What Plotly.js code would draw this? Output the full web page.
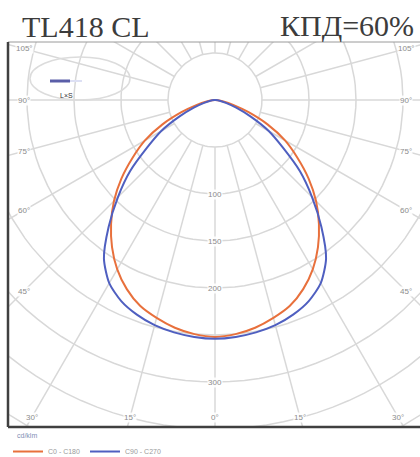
<!DOCTYPE html>
<html><head><meta charset="utf-8">
<script src="https://cdn.plot.ly/plotly-3.0.1.min.js"></script>
<style>html,body{margin:0;padding:0;background:#fff}</style>
</head><body><div id="chart" style="width:420px;height:457px"></div>
<script>
// ---- data ----
const gammaDeg = [0,5,10,15,20,25,30,35,40,45,50,55,60,65,70,75,80,85,90];
const intensityC0C180 = [252,250,246,240,233,222,208,191,172,152,130,107,86,62,38,20,9,3,0];
const intensityC90C270 = [254,253,251,248,243,236,225,206,176,146,118,88,66,42,24,12,5,1,0];
const seriesNames = ['C0 - C180','C90 - C270'];
const seriesColors = ['#e8703c','#4f5fc0'];
const ringValues = [50,100,150,200,250,300,350,400,450];
const spokeAngles = [0,15,30,45,60,75,90,105,120,135,150,165,180,195,210,225,240,255,270,285,300,315,330,345];
const radialLabels = [100,150,200,300];
const angleLabels = [-105,-90,-75,-60,-45,-30,-15,0,15,30,45,60,75,90,105];
const unitLabel = 'cd/klm';
const titleLeft = 'TL418 CL';
const titleRight = 'КПД=60%';

// ---- geometry (pixel layout of the frame) ----
const W = 420, H = 457;
const L = 8, R = 420, T = 42, B = 427;
const cx = 215, cy = 100, s = 0.94; // centre pixel, px per cd
const xr = [(L - cx) / s, (R - cx) / s];
const yr = [-(B - cy) / s, (cy - T) / s];
const rad = d => d * Math.PI / 180;
const px = (r, g) => r * Math.sin(rad(g));
const py = (r, g) => -r * Math.cos(rad(g));

const traces = [];
// rings
{
  const x = [], y = [];
  ringValues.forEach(r => {
    for (let a = 0; a <= 360; a += 3) { x.push(px(r, a)); y.push(py(r, a)); }
    x.push(null); y.push(null);
  });
  traces.push({type:'scatter', mode:'lines', x, y, line:{color:'#d8d8d8', width:1.5}, hoverinfo:'skip', showlegend:false});
}
// spokes
{
  const x = [], y = [];
  const r0 = ringValues[0], r1 = ringValues[ringValues.length - 1];
  spokeAngles.forEach(a => {
    x.push(px(r0, a), px(r1, a), null); y.push(py(r0, a), py(r1, a), null);
  });
  traces.push({type:'scatter', mode:'lines', x, y, line:{color:'#d8d8d8', width:1.5}, hoverinfo:'skip', showlegend:false});
}
// curves (symmetric halves)
[intensityC0C180, intensityC90C270].forEach((I, k) => {
  const x = [], y = [];
  for (let i = gammaDeg.length - 1; i >= 0; i--) { x.push(px(I[i], -gammaDeg[i])); y.push(py(I[i], -gammaDeg[i])); }
  for (let i = 1; i < gammaDeg.length; i++) { x.push(px(I[i], gammaDeg[i])); y.push(py(I[i], gammaDeg[i])); }
  traces.push({type:'scatter', mode:'lines', name: seriesNames[k], x, y,
    line:{color: seriesColors[k], width:2, shape:'spline', smoothing:0.7}, hoverinfo:'skip'});
});

// ---- annotations ----
const ann = [];
const labFont = {family:'Liberation Sans', size:8, color:'#8c8c8c'};
radialLabels.forEach(r => ann.push({x:0, y:-r, xref:'x', yref:'y', text:String(r), showarrow:false,
  font:labFont, bgcolor:'rgba(255,255,255,0.9)', borderpad:0}));
const ixl = (24 - cx) / s, ixr = (406 - cx) / s, iyb = -(417 - cy) / s;
angleLabels.forEach(g => {
  const sx = Math.sin(rad(g)), sy = -Math.cos(rad(g));
  const ts = [];
  if (sx < -1e-9) ts.push(ixl / sx);
  if (sx > 1e-9) ts.push(ixr / sx);
  if (sy < -1e-9) ts.push(iyb / sy);
  const t = Math.min(...ts.filter(v => v > 0));
  ann.push({x: t * sx, y: t * sy, xref:'x', yref:'y', text: Math.abs(g) + '°', showarrow:false,
    font:labFont, bgcolor:'rgba(255,255,255,0.9)', borderpad:0});
});
const pX = p => (p - L) / (R - L), pY = p => (B - p) / (B - T);
ann.push({x: pX(416), y: pY(26), xref:'paper', yref:'paper', xanchor:'right', yanchor:'middle',
  text: titleRight, showarrow:false, font:{family:'Liberation Serif', size:30, color:'#3c3c3c'}});
ann.push({x: pX(58), y: pY(90), xref:'paper', yref:'paper', text:'L×S', showarrow:false,
  font:{family:'Liberation Sans', size:7, color:'#333'}});
ann.push({x: pX(15), y: pY(436), xref:'paper', yref:'paper', xanchor:'left', yanchor:'middle', text: unitLabel,
  showarrow:false, font:{family:'Liberation Sans', size:7, color:'#7f8fb5'}});

const shapes = [
  {type:'line', xref:'paper', yref:'paper', x0:0, x1:1, y0:1, y1:1, line:{color:'#9a9a9a', width:1}, layer:'above'},
  {type:'line', xref:'paper', yref:'paper', x0:0, x1:0, y0:0, y1:1, line:{color:'#404040', width:2.5}, layer:'above'},
  {type:'line', xref:'paper', yref:'paper', x0:0, x1:1, y0:0, y1:0, line:{color:'#404040', width:2.5}, layer:'above'},
  {type:'circle', xref:'paper', yref:'paper', x0:pX(30), x1:pX(130), y0:pY(100), y1:pY(57), line:{color:'#dcdcdc', width:1.5}},
  {type:'line', xref:'paper', yref:'paper', x0:pX(50), x1:pX(82), y0:pY(81), y1:pY(81), line:{color:'#dde0f4', width:2}},
  {type:'line', xref:'paper', yref:'paper', x0:pX(50), x1:pX(70), y0:pY(81), y1:pY(81), line:{color:'#5a5ea8', width:3}}
];

const layout = {
  width: W, height: H,
  margin: {l: L, r: W - R, t: T, b: H - B, pad: 0, autoexpand: false},
  paper_bgcolor:'#fff', plot_bgcolor:'#fff',
  title: {text: titleLeft, x: 22 / W, xanchor:'left', xref:'container', y: 1 - 26 / H, yanchor:'middle', yref:'container',
    font:{family:'Liberation Serif', size:30, color:'#3c3c3c'}},
  xaxis: {range: xr, visible:false, showgrid:false, zeroline:false, fixedrange:true},
  yaxis: {range: yr, visible:false, showgrid:false, zeroline:false, fixedrange:true},
  showlegend: true,
  legend: {orientation:'h', x:0.0, xanchor:'left', y:-0.026, yanchor:'top',
    font:{family:'Liberation Sans', size:7, color:'#9a9a9a'}, itemwidth:30, bgcolor:'rgba(0,0,0,0)'},
  annotations: ann, shapes: shapes
};
Plotly.newPlot('chart', traces, layout, {displayModeBar:false, staticPlot:true});
</script></body></html>
